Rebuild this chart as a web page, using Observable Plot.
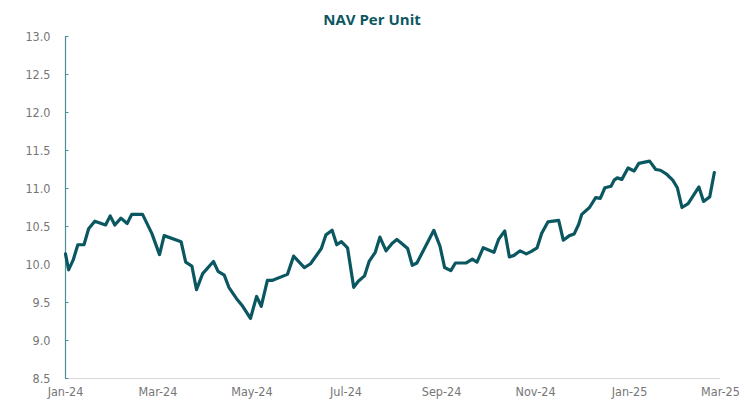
<!DOCTYPE html>
<html>
<head>
<meta charset="utf-8">
<script src="https://cdn.jsdelivr.net/npm/d3@7"></script>
<script src="https://cdn.jsdelivr.net/npm/@observablehq/plot@0.6"></script>
<style>
  html, body { margin: 0; padding: 0; background: #ffffff; }
  #wrap { position: relative; width: 744px; height: 401px; overflow: hidden; }
  #title { position: absolute; left: 0; top: 10px; width: 744px; line-height: 18px; text-align: center; font-family: "Open Sans", sans-serif; font-size: 15px; font-weight: 700; color: #0b5761; z-index: 2; }
  #chart svg { display: block; }
</style>
</head>
<body>
<div id="wrap">
  <div id="title">NAV Per Unit</div>
  <div id="chart"></div>
</div>
<script>
const chartTitle = "NAV Per Unit";

const dates = [
  "2024-01-01","2024-01-03","2024-01-06","2024-01-09","2024-01-13","2024-01-16","2024-01-20","2024-01-27",
  "2024-01-30","2024-02-02","2024-02-06","2024-02-10","2024-02-13","2024-02-20","2024-02-26","2024-03-02",
  "2024-03-05","2024-03-16","2024-03-19","2024-03-23","2024-03-26","2024-03-30","2024-04-06","2024-04-09",
  "2024-04-13","2024-04-16","2024-04-21","2024-04-25","2024-04-30","2024-05-04","2024-05-07","2024-05-11",
  "2024-05-14","2024-05-24","2024-05-28","2024-06-04","2024-06-08","2024-06-15","2024-06-18","2024-06-22",
  "2024-06-25","2024-06-28","2024-07-02","2024-07-06","2024-07-09","2024-07-13","2024-07-16","2024-07-20",
  "2024-07-23","2024-07-27","2024-07-31","2024-08-03","2024-08-06","2024-08-10","2024-08-13","2024-08-16",
  "2024-08-27","2024-08-31","2024-09-03","2024-09-07","2024-09-10","2024-09-17","2024-09-21","2024-09-24",
  "2024-09-28","2024-10-05","2024-10-08","2024-10-12","2024-10-15","2024-10-18","2024-10-22","2024-10-26",
  "2024-10-29","2024-11-02","2024-11-05","2024-11-09","2024-11-16","2024-11-19","2024-11-23","2024-11-26",
  "2024-11-29","2024-12-01","2024-12-06","2024-12-10","2024-12-13","2024-12-16","2024-12-20","2024-12-22",
  "2024-12-24","2024-12-27","2024-12-31","2025-01-04","2025-01-07","2025-01-14","2025-01-18","2025-01-21",
  "2025-01-25","2025-01-29","2025-02-01","2025-02-04","2025-02-08","2025-02-15","2025-02-18","2025-02-22",
  "2025-02-25"
];

const navValues = [
  10.14, 9.93, 10.06, 10.26, 10.26, 10.47, 10.57, 10.52,
  10.64, 10.52, 10.61, 10.54, 10.66, 10.66, 10.41, 10.13,
  10.38, 10.30, 10.03, 9.98, 9.67, 9.88, 10.04, 9.91,
  9.86, 9.70, 9.55, 9.45, 9.29, 9.58, 9.45, 9.79,
  9.79, 9.87, 10.11, 9.96, 10.01, 10.21, 10.39, 10.45,
  10.26, 10.30, 10.22, 9.70, 9.78, 9.85, 10.04, 10.16,
  10.36, 10.18, 10.28, 10.33, 10.28, 10.21, 9.99, 10.02,
  10.45, 10.24, 9.96, 9.92, 10.02, 10.02, 10.07, 10.03,
  10.22, 10.16, 10.33, 10.44, 10.10, 10.12, 10.18, 10.14,
  10.17, 10.22, 10.41, 10.56, 10.58, 10.32, 10.38, 10.40,
  10.53, 10.66, 10.75, 10.88, 10.87, 11.01, 11.03, 11.11,
  11.14, 11.12, 11.27, 11.23, 11.33, 11.36, 11.25, 11.24,
  11.19, 11.11, 11.01, 10.75, 10.80, 11.02, 10.83, 10.89,
  11.21
];

const yTicks = [8.5, 9.0, 9.5, 10.0, 10.5, 11.0, 11.5, 12.0, 12.5, 13.0];
const xTickDates = ["2024-01-01","2024-03-01","2024-05-01","2024-07-01","2024-09-01","2024-11-01","2025-01-01","2025-03-01"];
const xTickLabels = ["Jan-24","Mar-24","May-24","Jul-24","Sep-24","Nov-24","Jan-25","Mar-25"];
const xDomain = ["2024-01-01", "2025-03-01"];

document.getElementById("title").textContent = chartTitle;

const data = dates.map((d, i) => ({date: new Date(d + "T00:00:00Z"), nav: navValues[i]}));
const tickDates = xTickDates.map(d => new Date(d + "T00:00:00Z"));
const labelOf = new Map(tickDates.map((d, i) => [+d, xTickLabels[i]]));

const fontFamily = '"DejaVu Sans Condensed", "Liberation Sans Narrow", Roboto, sans-serif';

const plot = Plot.plot({
  width: 744,
  height: 401,
  marginTop: 36,
  marginBottom: 23,
  marginLeft: 65,
  marginRight: 24,
  style: {fontFamily, fontSize: "12.5px", color: "#767676", background: "#ffffff", overflow: "visible"},
  x: {type: "utc", domain: xDomain.map(d => new Date(d + "T00:00:00Z"))},
  y: {domain: [8.5, 13]},
  marks: [
    Plot.ruleY([yTicks[0]], {stroke: "#d9d9d9", strokeWidth: 1.2}),
    Plot.ruleX([new Date(xDomain[0] + "T00:00:00Z")], {stroke: "#4f8e97", strokeWidth: 1.2}),
    Plot.axisY(yTicks, {
      tickSize: -3.5, tickPadding: 18.5, stroke: "#4f8e97",
      tickFormat: d3.format(".1f"), fill: "#767676", fontSize: 12.5, label: null
    }),
    Plot.axisX(tickDates, {
      tickSize: 0, tickPadding: 9, tickFormat: d => labelOf.get(+d),
      fill: "#767676", fontSize: 12.5, label: null
    }),
    Plot.line(data, {x: "date", y: "nav", stroke: "#0b5761", strokeWidth: 3.2, strokeLinejoin: "round", strokeLinecap: "round"})
  ]
});
document.getElementById("chart").appendChild(plot);
</script>
</body>
</html>
